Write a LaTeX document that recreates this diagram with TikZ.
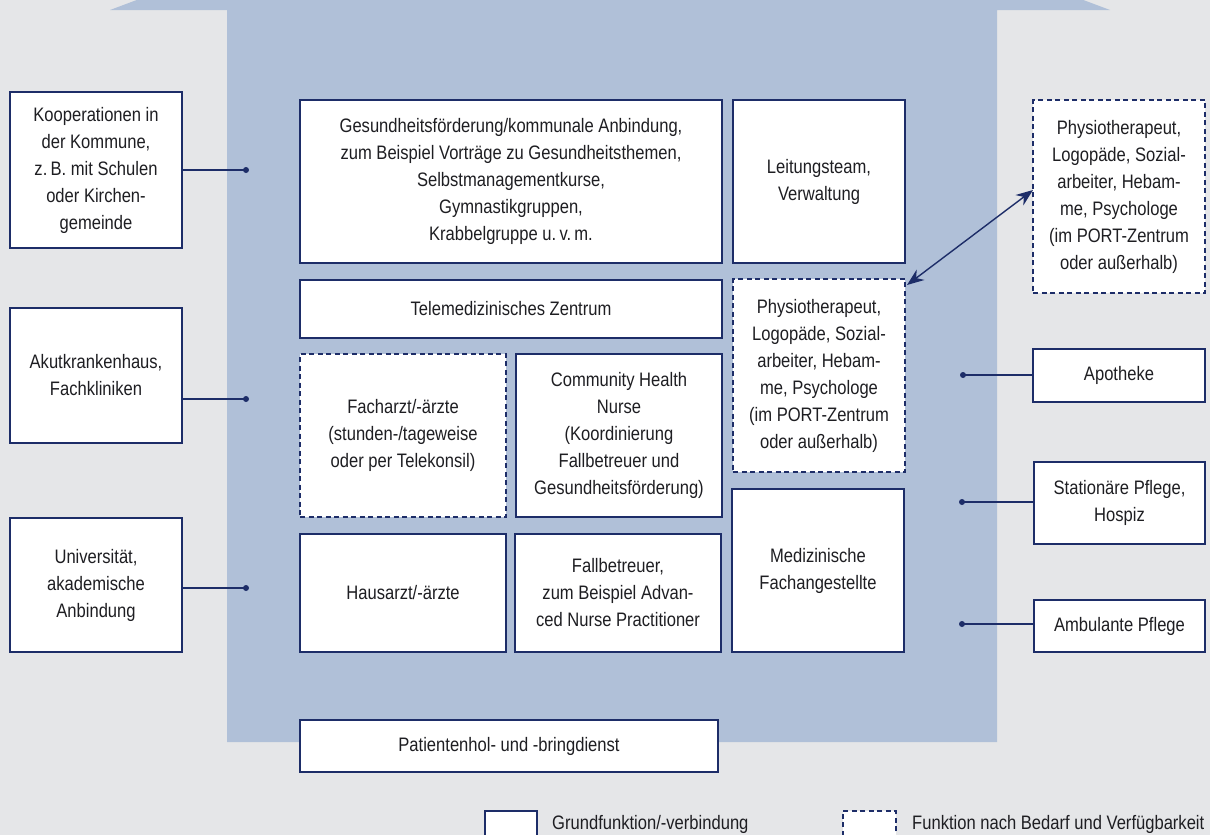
\documentclass[tikz,border=0pt]{standalone}
\usepackage{fontspec}
\setmainfont[FakeStretch=0.85]{Liberation Sans}
\usetikzlibrary{arrows.meta}
\definecolor{bggray}{RGB}{229,230,232}
\definecolor{houseblue}{RGB}{176,192,216}
\definecolor{navy}{RGB}{29,45,104}
\definecolor{txt}{RGB}{30,30,34}
\tikzset{
  box/.style={draw=navy, line width=1.5pt, fill=white, text=txt, align=center, inner sep=2pt,
    font=\fontsize{19.5}{27}\selectfont},
  dbox/.style={box, dash pattern=on 5pt off 3.5pt},
  conn/.style={draw=navy, line width=1.4pt},
  dot/.style={circle, fill=navy, inner sep=0pt, minimum size=6pt},
  lbl/.style={text=txt, anchor=base west, inner sep=0pt, font=\fontsize{19.5}{27}\selectfont}
}
\begin{document}
\begin{tikzpicture}[x=1pt, y=-1pt]
\useasboundingbox (0,0) rectangle (1210,835);
\fill[bggray] (0,0) rectangle (1210,835);
% house
\fill[houseblue] (110,10) -- (150,-5) -- (1070,-5) -- (1110,10) -- (997,10) -- (997,742) -- (227,742) -- (227,10) -- cycle;

% left boxes
\node[box, minimum width=172pt, minimum height=156pt] (koop) at (96,170) {Kooperationen in\\der Kommune,\\z.\,B. mit Schulen\\oder Kirchen-\\gemeinde};
\node[box, minimum width=172pt, minimum height=135pt] (akut) at (96,375.5) {Akutkrankenhaus,\\Fachkliniken};
\node[box, minimum width=172pt, minimum height=134pt] (uni) at (96,585) {Universität,\\akademische\\Anbindung};

% inner boxes
\node[box, minimum width=422pt, minimum height=163pt] (gf) at (511,181.5) {Gesundheitsförderung/kommunale Anbindung,\\zum Beispiel Vorträge zu Gesundheitsthemen,\\Selbstmanagementkurse,\\Gymnastikgruppen,\\Krabbelgruppe u.\,v.\,m.};
\node[box, minimum width=172pt, minimum height=163pt] (lt) at (819,181.5) {Leitungsteam,\\Verwaltung};
\node[box, minimum width=422pt, minimum height=58pt] (tm) at (511,309) {Telemedizinisches Zentrum};
\node[dbox, minimum width=172pt, minimum height=193pt] (phi) at (819,375.5) {Physiotherapeut,\\Logopäde, Sozial-\\arbeiter, Hebam-\\me, Psychologe\\(im PORT-Zentrum\\oder außerhalb)};
\node[dbox, minimum width=206pt, minimum height=163pt] (fa) at (403,435.5) {Facharzt/-ärzte\\(stunden-/tageweise\\oder per Telekonsil)};
\node[box, minimum width=206pt, minimum height=163pt] (chn) at (619,435.5) {Community Health\\Nurse\\(Koordinierung\\Fallbetreuer und\\Gesundheitsförderung)};
\node[box, minimum width=172pt, minimum height=163pt] (mf) at (818,570.5) {Medizinische\\Fachangestellte};
\node[box, minimum width=206pt, minimum height=118pt] (ha) at (403,593) {Hausarzt/-ärzte};
\node[box, minimum width=206pt, minimum height=118pt] (fb) at (618,593) {Fallbetreuer,\\zum Beispiel Advan-\\ced Nurse Practitioner};
\node[box, minimum width=418pt, minimum height=52pt] (pat) at (509,746) {Patientenhol- und -bringdienst};

% right boxes
\node[dbox, minimum width=172pt, minimum height=193pt] (pho) at (1119,196.5) {Physiotherapeut,\\Logopäde, Sozial-\\arbeiter, Hebam-\\me, Psychologe\\(im PORT-Zentrum\\oder außerhalb)};
\node[box, minimum width=172pt, minimum height=53pt] (apo) at (1119,375.5) {Apotheke};
\node[box, minimum width=171pt, minimum height=82pt] (sp) at (1119.5,503) {Stationäre Pflege,\\Hospiz};
\node[box, minimum width=171pt, minimum height=52pt] (amb) at (1119.5,626) {Ambulante Pflege};

% connectors
\node[dot] (dk) at (246,170) {};
\node[dot] (da) at (246,399) {};
\node[dot] (du) at (246,588) {};
\node[dot] (dap) at (963,375) {};
\node[dot] (dsp) at (962,502) {};
\node[dot] (dam) at (962,624) {};
\draw[conn] (dk.center -| koop.east) -- (dk.center);
\draw[conn] (da.center -| akut.east) -- (da.center);
\draw[conn] (du.center -| uni.east) -- (du.center);
\draw[conn] (dap.center -| apo.west) -- (dap.center);
\draw[conn] (dsp.center -| sp.west) -- (dsp.center);
\draw[conn] (dam.center -| amb.west) -- (dam.center);

% double arrow
\coordinate (a1) at (907,285);
\coordinate (a2) at (1033,190);
\draw[conn, {Stealth[length=17pt,width=13pt]}-{Stealth[length=17pt,width=13pt]}] (a1) -- (a2);

% legend
\node[box, minimum width=52pt, minimum height=44pt, anchor=north west] (lg1) at (484,810) {};
\node[dbox, minimum width=53pt, minimum height=44pt, anchor=north west] (lg2) at (842,810) {};
\node[lbl] (lt1) at (552,829) {Grundfunktion/-verbindung};
\node[lbl] (lt2) at (912,829) {Funktion nach Bedarf und Verfügbarkeit};
\end{tikzpicture}
\end{document}
